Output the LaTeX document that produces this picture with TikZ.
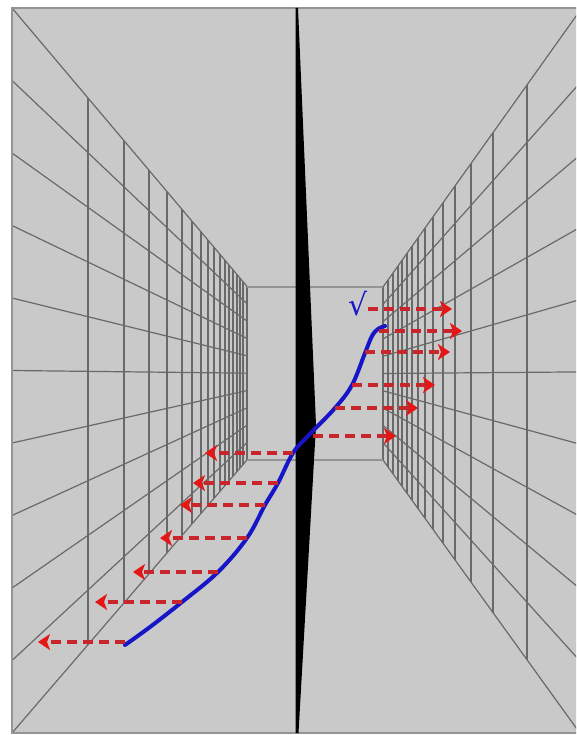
\documentclass[tikz,border=0pt]{standalone}
\usepackage{fontspec}
\newfontfamily\symfont{DejaVu Sans}
\usetikzlibrary{arrows.meta,calc}
\definecolor{wallgray}{RGB}{201,201,201}
\definecolor{gridgray}{RGB}{105,105,105}
\definecolor{edgegray}{RGB}{148,148,148}
\definecolor{flowred}{RGB}{200,38,42}
\definecolor{tipred}{RGB}{228,22,22}
\definecolor{penblue}{RGB}{22,22,200}

\begin{document}
\begin{tikzpicture}[x=1pt,y=-1pt,
    gridline/.style={gridgray,line width=1.2pt},
    edgeline/.style={edgegray,line width=2.6pt},
    flow/.style={flowred,line width=3.6pt,dash pattern=on 10pt off 6pt,
        -{Stealth[length=12pt,width=16pt,inset=3pt,tipred]}},
    pen/.style={penblue,line width=4pt,line cap=round,line join=round}]
    \useasboundingbox (0,0) rectangle (576,735);
    \fill[white] (0,0) rectangle (576,735);
    \clip (0,0) rectangle (576,735);
    \fill[wallgray] (12,8) rectangle (600,733);
    \coordinate (vp) at (321,374);
    \foreach \i in {0,...,10} {
        \draw[gridline] (12,{8+72.5*\i}) -- ($(12,{8+72.5*\i})!0.7605!(vp)$);
        \draw[gridline] (383,{287+17.3*\i}) -- ($(vp)!4.3!(383,{287+17.3*\i})$);
    }
    \foreach \x in {88,124,149,167,182,192,201,208,214,220,225,229,233,237,240,243,247}
        \draw[gridline] (\x,{374-(321-\x)*1.1845}) -- (\x,{374+(321-\x)*1.1618});
    \foreach \x in {383,388,393,398,402,407,412,418,425,433,443,455,471,493,527}
        \draw[gridline] (\x,{374-(\x-321)*1.403}) -- (\x,{374+(\x-321)*1.387});
    \draw[edgeline] (247,287) -- (383,287);
    \draw[edgeline] (247,460) -- (383,460);
    \draw[edgeline,line width=2pt] (600,8) -- (12,8) -- (12,733) -- (600,733);
    \fill[black] (295.5,8) -- (298,8) -- (316,425) -- (298.5,733) -- (295.5,733) -- cycle;
    \draw[pen] plot[smooth,tension=0.6] coordinates {(125,645) (150,627) (182,602)
        (218,572) (247,538) (265,505) (278,483) (293,453) (308,436) (335,408)
        (352,385) (365,353) (372,336) (378,329) (385,326)};
    \node[penblue,font=\symfont\fontsize{30}{32}\selectfont] (tick) at (358,304) {√};
    \foreach \n/\y/\a/\b in {r1/309/368/452,r2/331/379/462,r3/352/365/450,
        r4/385/352/435,r5/408/335/418,r6/436/313/396,
        l1/453/293/205,l2/483/278/193,l3/505/265/180,l4/538/247/160,
        l5/572/218/133,l6/602/182/95,l7/642/125/38} {
        \coordinate (\n from) at (\a,\y);
        \coordinate (\n to) at (\b,\y);
        \draw[flow] (\n from) -- (\n to);
    }
\end{tikzpicture}
\end{document}
